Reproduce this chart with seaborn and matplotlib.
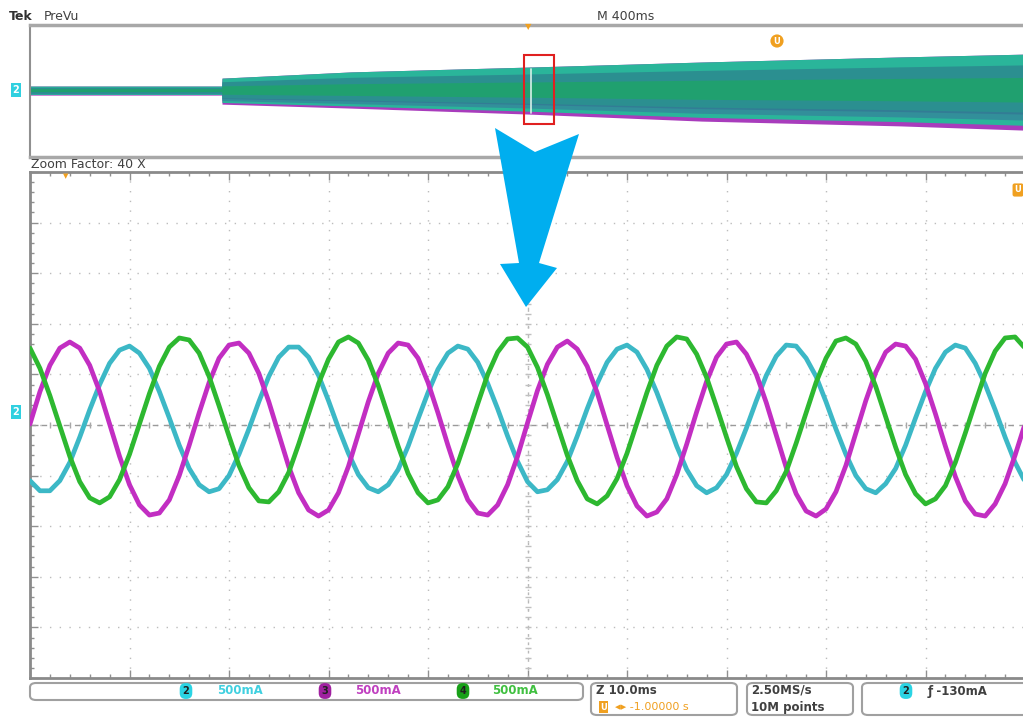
import numpy as np
import pandas as pd
import matplotlib
matplotlib.use("Agg")
import matplotlib.pyplot as plt
from matplotlib.patches import Polygon, Rectangle, FancyBboxPatch
from matplotlib.ticker import MultipleLocator
import seaborn as sns

sns.set_theme(style="white")
plt.rcParams['font.family'] = ['DejaVu Sans']

# zoomed window (10 ms/div), one reading every 1 ms, currents in mA
time_ms = list(range(0, 101))
ch2_ma = [-550, -650, -650, -550, -370, -120, 150, 400, 610, 740, 780, 710, 560, 330, 70, -200, -430,
          -590, -660, -630, -500, -290, -40, 230, 480, 670, 770, 770, 670, 490, 240, -30, -280, -490,
          -620, -660, -590, -440, -210, 60, 320, 550, 710, 780, 750, 620, 410, 160, -110, -360,
          -560, -660, -640, -540, -360, -110, 160, 410, 620, 750, 790, 720, 550, 320, 60, -210, -440,
          -600, -670, -620, -490, -280, -30, 240, 490, 680, 790, 780, 660, 480, 230, -40, -290, -500,
          -630, -670, -580, -430, -200, 70, 330, 560, 720, 790, 760, 610, 400, 150, -120, -370, -560]
ch3_ma = [10, 330, 590, 760, 820, 760, 590, 330, 10, -310, -590, -790, -890, -870, -740, -500, -200,
          120, 420, 660, 790, 810, 710, 510, 230, -90, -410, -670, -840, -900, -840, -670, -410, -90,
          230, 510, 710, 810, 790, 660, 420, 120, -200, -500, -740, -870, -890, -790, -590, -310,
          20, 340, 600, 770, 830, 750, 580, 320, 0, -320, -600, -800, -900, -860, -730, -490, -190,
          130, 430, 670, 800, 820, 700, 500, 220, -100, -420, -680, -850, -900, -830, -660, -400, -80,
          240, 520, 720, 800, 780, 650, 410, 110, -210, -510, -750, -880, -900, -780, -580, -300, 10]
ch4_ma = [760, 560, 290, -10, -310, -560, -720, -770, -710, -540, -290, 10, 310, 580, 770, 860, 840,
          710, 480, 190, -110, -400, -620, -750, -760, -660, -470, -190, 110, 410, 650, 820, 870, 810,
          640, 390, 90, -210, -480, -670, -770, -740, -610, -380, -90, 210, 500, 720, 850, 860,
          770, 570, 300, 0, -300, -550, -730, -780, -700, -530, -280, 20, 320, 590, 780, 870, 850,
          700, 470, 180, -120, -410, -630, -760, -770, -650, -460, -180, 120, 420, 660, 830, 860, 800,
          630, 380, 80, -220, -490, -680, -780, -730, -600, -370, -80, 220, 510, 730, 860, 870, 760]

# PreVu overview envelope (400 ms/div), time in s
ov_t = [0.0, 0.77, 0.772, 1.29, 2.0, 2.7, 3.5, 4.0]
ov_upper = [140, 140, 420, 640, 810, 990, 1170, 1270]
ov_lower = [-180, -180, -500, -640, -850, -1100, -1270, -1420]

W, H = 1023, 717


def px(x, y):
    return x / W, 1 - y / H


fig = plt.figure(figsize=(W / 100, H / 100), dpi=100)
fig.patch.set_facecolor("white")

# ---------- overview ----------
ax0 = fig.add_axes([30 / W, 1 - 157 / H, 995 / W, 132 / H])
up = np.array(ov_upper)
lo = np.array(ov_lower)
ax0.fill_between(ov_t, up, lo, color="#a83cbc", lw=0)
ax0.fill_between(ov_t, up, lo * 0.88, color="#2ab59a", lw=0)
ax0.fill_between(ov_t, up * 0.7, lo * 0.6, color="#2c7f8c", lw=0, alpha=0.7)
ax0.fill_between(ov_t, up * 0.35, lo * 0.3, color="#1fa46a", lw=0, alpha=0.85)
ax0.fill_between(ov_t, lo * 0.55, lo * 0.75, color="#3a6a9a", lw=0, alpha=0.5)
ax0.add_patch(Rectangle((1.985, -1200), 0.12, 2440, fill=False, ec="#e02020", lw=1.5, zorder=5))
ax0.plot([2.014, 2.014], [-800, 760], color="#d8f0e8", lw=1.2, zorder=4)
ax0.set_xlim(0, 4)
ax0.set_ylim(-2370, 2300)
ax0.set_xticks([])
ax0.set_yticks([])
for side in ["top", "bottom"]:
    ax0.spines[side].set_color("#a8a8a8")
    ax0.spines[side].set_linewidth(2.5)
ax0.spines["left"].set_color("#909090")
ax0.spines["left"].set_linewidth(1.5)
ax0.spines["right"].set_visible(False)

# ---------- zoomed traces ----------
ax = fig.add_axes([30 / W, 1 - 678 / H, 995 / W, 506 / H])
df = pd.DataFrame({
    "t": time_ms * 3,
    "i": ch2_ma + ch3_ma + ch4_ma,
    "ch": ["2"] * len(time_ms) + ["3"] * len(time_ms) + ["4"] * len(time_ms),
})
palette = {"2": "#3cb8c6", "3": "#c22ec2", "4": "#2db830"}
sns.lineplot(data=df, x="t", y="i", hue="ch", palette=palette, linewidth=3.4,
             legend=False, ax=ax, zorder=3, solid_joinstyle="round")
ax.set_xlim(0, 100)
ax.set_ylim(-2500, 2500)
ax.set_xticks(np.arange(0, 101, 10))
ax.set_yticks(np.arange(-2500, 2501, 500))
ax.set_xticklabels([])
ax.set_yticklabels([])
ax.set_xlabel("")
ax.set_ylabel("")
ax.grid(True, color="#bcbcbc", linestyle=(0, (1, 6)), linewidth=1)
ax.xaxis.set_minor_locator(MultipleLocator(2))
ax.yaxis.set_minor_locator(MultipleLocator(100))
ax.tick_params(which="both", direction="in", top=True, left=True, bottom=True, right=False,
               color="#909090")
ax.tick_params(which="major", length=6, width=1)
ax.tick_params(which="minor", length=3, width=1)
ax.axhline(0, color="#9a9a9a", ls=(0, (4, 4)), lw=1, zorder=1)
ax.axvline(50, color="#b8b8b8", ls=(0, (2, 4)), lw=1, zorder=1)
ax.plot(np.arange(0, 101, 2), np.zeros(51), ls="none", marker="|", ms=5, color="#a8a8a8", zorder=1)
ax.plot(np.full(51, 50), np.arange(-2500, 2501, 100), ls="none", marker="_", ms=4, color="#c0c0c0", zorder=1)
for side in ["left", "top", "bottom"]:
    ax.spines[side].set_color("#8a8a8a")
    ax.spines[side].set_linewidth(2)
ax.spines["right"].set_visible(False)

# ---------- header texts ----------
fig.text(*px(9, 17), "Tek", fontsize=9, fontweight="bold", color="#303030", va="center")
fig.text(*px(44, 17), "PreVu", fontsize=9, color="#404040", va="center")
fig.text(*px(597, 17), "M 400ms", fontsize=9, color="#404040", va="center")
fig.text(*px(31, 165), "Zoom Factor: 40 X", fontsize=9, color="#404040", va="center")

# markers
orange = "#f0a020"
fig.text(*px(528, 27), "\u25bc", fontsize=6, color=orange, ha="center", va="center")
fig.text(*px(777, 41), "U", fontsize=6, fontweight="bold", color="white", ha="center", va="center",
         bbox=dict(boxstyle="circle,pad=0.25", fc=orange, ec="none"))
fig.text(*px(66, 176), "\u25bc", fontsize=5, color=orange, ha="center", va="center")
fig.text(*px(1018, 190), "U", fontsize=6, fontweight="bold", color="white", ha="center", va="center",
         bbox=dict(boxstyle="round,pad=0.25", fc=orange, ec="none"))
for y in (90, 412):
    fig.text(*px(16, y), "2", fontsize=7, fontweight="bold", color="white", ha="center", va="center",
             bbox=dict(boxstyle="square,pad=0.2", fc="#30d0e0", ec="none"))

# big blue arrow
arrow = [(495, 128), (535, 152), (579, 134), (539, 263), (557, 268), (526, 307),
         (500, 264), (519, 263)]
fig.add_artist(Polygon([px(x, y) for x, y in arrow], closed=True, fc="#00aeef", ec="none",
                       transform=fig.transFigure, zorder=10))

# ---------- status bar ----------
boxes = [(30, 683, 583, 700), (591, 683, 737, 715), (747, 683, 853, 715), (862, 683, 1040, 715)]
for x0, y0, x1, y1 in boxes:
    (fx0, fy1), (fx1, fy0) = px(x0, y0), px(x1, y1)
    fig.add_artist(FancyBboxPatch((fx0, fy0), fx1 - fx0, fy1 - fy0,
                                  boxstyle="round,pad=0,rounding_size=0.006",
                                  transform=fig.transFigure, fc="white", ec="#a0a0a0", lw=1.5))

chans = [("2", "#2ad4e4", "#40d0e0", 186, 217), ("3", "#a020a0", "#c040c0", 325, 355),
         ("4", "#18a018", "#40c040", 463, 492)]
for num, fc, tc, cx, tx in chans:
    fig.text(*px(cx, 691), num, fontsize=7, fontweight="bold", color="#202020", ha="center",
             va="center", bbox=dict(boxstyle="round,pad=0.3,rounding_size=0.6", fc=fc, ec="none"))
    fig.text(*px(tx, 691), "500mA", fontsize=8.5, fontweight="bold", color=tc, va="center")

fig.text(*px(596, 690), "Z 10.0ms", fontsize=8.5, fontweight="bold", color="#404040", va="center")
fig.text(*px(600, 707), "U", fontsize=6, fontweight="bold", color="white", va="center",
         bbox=dict(boxstyle="square,pad=0.15", fc=orange, ec="none"))
fig.text(*px(615, 707), "\u25c2\u25b8 -1.00000 s", fontsize=8, color=orange, va="center")
fig.text(*px(751, 690), "2.50MS/s", fontsize=8.5, fontweight="bold", color="#404040", va="center")
fig.text(*px(751, 707), "10M points", fontsize=8.5, fontweight="bold", color="#404040", va="center")
fig.text(*px(906, 691), "2", fontsize=7, fontweight="bold", color="#202020", ha="center", va="center",
         bbox=dict(boxstyle="round,pad=0.3,rounding_size=0.6", fc="#2ad4e4", ec="none"))
fig.text(*px(928, 691), "\u0192 -130mA", fontsize=8.5, fontweight="bold", color="#404040", va="center")

fig.savefig("out.png", dpi=100)
